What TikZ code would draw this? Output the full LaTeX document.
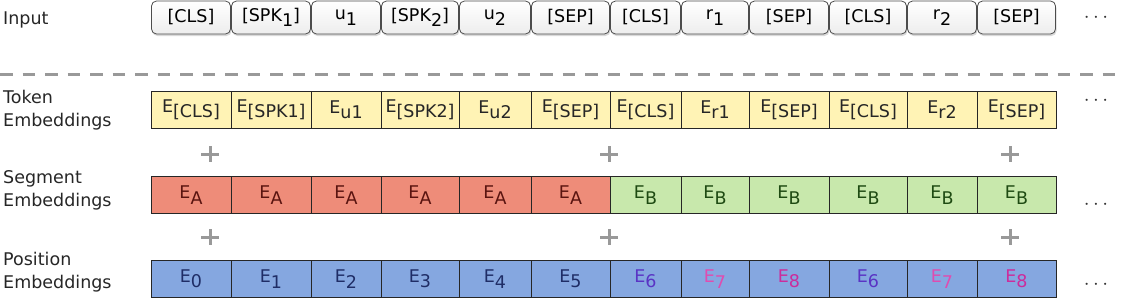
\documentclass[tikz,border=0pt]{standalone}
\usepackage{fontspec}
\setmainfont{DejaVu Sans}
\usetikzlibrary{shadows}

\definecolor{tokfill}{HTML}{FFF3B5}
\definecolor{segAfill}{HTML}{EE8C79}
\definecolor{segAtext}{HTML}{5A1410}
\definecolor{segBfill}{HTML}{C8E8AC}
\definecolor{segBtext}{HTML}{1E4A12}
\definecolor{posfill}{HTML}{85A7E0}
\definecolor{postext}{HTML}{1F2D66}
\definecolor{posSix}{HTML}{5A34C4}
\definecolor{posSeven}{HTML}{E04CB0}
\definecolor{posEight}{HTML}{CC2C9C}

\newcommand{\sub}[1]{\raisebox{-0.3em}{#1}}

\begin{document}
\begin{tikzpicture}[x=1pt,y=-1pt,
    txt/.style={font=\fontsize{17.5}{23}\selectfont, inner sep=0pt},
    cell/.style={txt, draw=black!85, line width=0.8pt, minimum height=37pt},
    inbox/.style={txt, draw=black!70, line width=0.8pt, rounded corners=5pt,
      top color=white, bottom color=black!7, minimum height=33pt,
      drop shadow={shadow xshift=1pt, shadow yshift=-2pt, opacity=0.3}},
    tokcell/.style={cell, fill=tokfill, text=black!85},
    segA/.style={cell, fill=segAfill, text=segAtext},
    segB/.style={cell, fill=segBfill, text=segBtext},
    poscell/.style={cell, fill=posfill},
    rowlabel/.style={txt, anchor=west, align=left, text=black!85},
    more/.style={font=\fontsize{22}{22}\selectfont, inner sep=0pt, text=black!80},
    plusline/.style={black!40, line width=3pt}]
  \useasboundingbox (0,0) rectangle (1124,298);
  \def\xe{{151,231,311,381,459,531,610,681,749,829,907,977,1056}}

  % Input tokens
  \node[rowlabel] (lblin) at (3,20) {Input};
  \foreach \t [count=\i] in {{[CLS]},{[SPK\sub{1}]},{u\sub{1}},{[SPK\sub{2}]},{u\sub{2}},{[SEP]},
      {[CLS]},{r\sub{1}},{[SEP]},{[CLS]},{r\sub{2}},{[SEP]}} {
    \pgfmathsetmacro\l{\xe[\i-1]}
    \pgfmathsetmacro\r{\xe[\i]}
    \node[inbox, minimum width={\r pt-\l pt-1pt}] (in\i) at ({(\l+\r)/2},17.5) {\t};
  }
  \node[more] (morein) at (1096,18) {$\cdots$};

  \draw[black!40, line width=3pt, dash pattern=on 12.5pt off 10pt] (0,74) -- (1124,74);

  % Token embeddings
  \node[rowlabel] (lbltok) at (3,110) {Token\\Embeddings};
  \foreach \t [count=\i] in {{[CLS]},{[SPK1]},{u1},{[SPK2]},{u2},{[SEP]},
      {[CLS]},{r1},{[SEP]},{[CLS]},{r2},{[SEP]}} {
    \pgfmathsetmacro\l{\xe[\i-1]}
    \pgfmathsetmacro\r{\xe[\i]}
    \node[tokcell, minimum width={\r pt-\l pt}] (tok\i) at ({(\l+\r)/2},109.5) {E\sub{\t}};
  }
  \node[more] (moretok) at (1096,101) {$\cdots$};

  % Segment embeddings
  \node[rowlabel] (lblseg) at (3,190) {Segment\\Embeddings};
  \foreach \s [count=\i] in {A,A,A,A,A,A,B,B,B,B,B,B} {
    \pgfmathsetmacro\l{\xe[\i-1]}
    \pgfmathsetmacro\r{\xe[\i]}
    \node[seg\s, minimum width={\r pt-\l pt}] (seg\i) at ({(\l+\r)/2},195) {E\sub{\s}};
  }
  \node[more] (moreseg) at (1096,205) {$\cdots$};

  % Position embeddings
  \node[rowlabel] (lblpos) at (3,272) {Position\\Embeddings};
  \foreach \t/\c [count=\i] in {0/postext,1/postext,2/postext,3/postext,4/postext,5/postext,
      6/posSix,7/posSeven,8/posEight,6/posSix,7/posSeven,8/posEight} {
    \pgfmathsetmacro\l{\xe[\i-1]}
    \pgfmathsetmacro\r{\xe[\i]}
    \node[poscell, text=\c, minimum width={\r pt-\l pt}] (pos\i) at ({(\l+\r)/2},279) {E\sub{\t}};
  }
  \node[more] (morepos) at (1096,285) {$\cdots$};

  % plus signs
  \foreach \px in {210,609,1010} {
    \foreach \py in {154,237} {
      \draw[plusline] (\px-9,\py) -- (\px+9,\py) (\px,\py-8) -- (\px,\py+8);
    }
  }
\end{tikzpicture}
\end{document}
